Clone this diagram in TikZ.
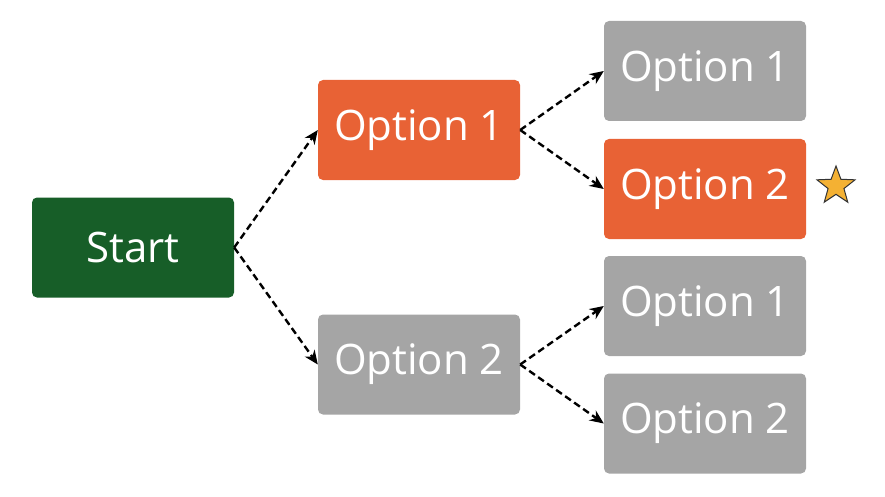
\documentclass[tikz,border=0pt]{standalone}
\usepackage{fontspec}
\setmainfont{Open Sans}
\usetikzlibrary{shapes.geometric,arrows.meta}
\definecolor{sgreen}{HTML}{175E28}
\definecolor{sorange}{HTML}{E86235}
\definecolor{sgray}{HTML}{A5A5A5}
\definecolor{sstar}{HTML}{F4B133}
\tikzset{
  box/.style={rounded corners=5pt, minimum width=202pt, minimum height=100pt, text=white, font=\fontsize{42}{48}\selectfont, inner sep=0pt},
  conn/.style={dashed, dash pattern=on 7pt off 4pt, line width=2.4pt, -{Stealth[length=14pt,width=12pt]}},
}
\begin{document}
\begin{tikzpicture}[x=1pt,y=-1pt]
\useasboundingbox (0,0) rectangle (885,497);
\node[box, fill=sgreen] (s) at (133,247.5) {Start};
\node[box, fill=sorange] (a1) at (419,130) {Option 1};
\node[box, fill=sgray] (a2) at (419,364.5) {Option 2};
\node[box, fill=sgray] (b1) at (705,71) {Option 1};
\node[box, fill=sorange] (b2) at (705,189) {Option 2};
\node[box, fill=sgray] (b3) at (705,306) {Option 1};
\node[box, fill=sgray] (b4) at (705,423.5) {Option 2};
\node[star, star points=5, star point ratio=2.4, fill=sstar, draw=black!80, line width=1pt, minimum size=40pt, inner sep=0pt] (st) at (836,186) {};
\draw[conn] (s.east) -- (a1.west);
\draw[conn] (s.east) -- (a2.west);
\draw[conn] (a1.east) -- (b1.west);
\draw[conn] (a1.east) -- (b2.west);
\draw[conn] (a2.east) -- (b3.west);
\draw[conn] (a2.east) -- (b4.west);
\end{tikzpicture}
\end{document}
